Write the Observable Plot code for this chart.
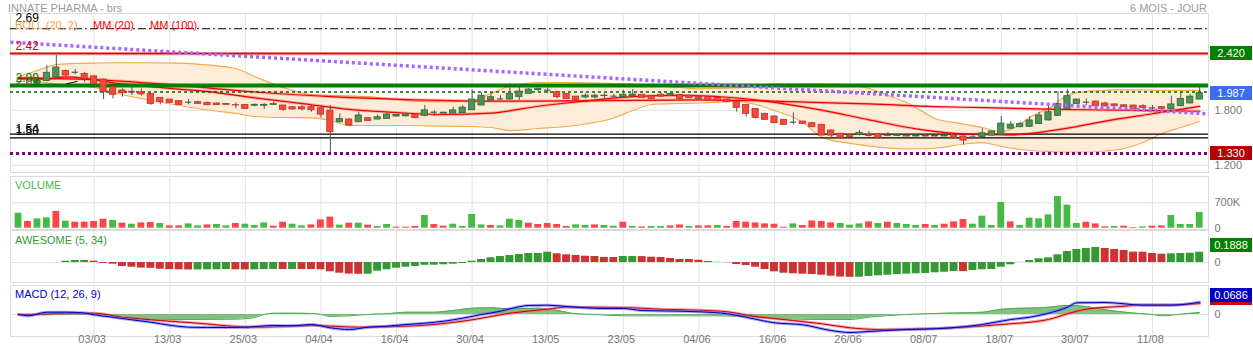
<!DOCTYPE html>
<html><head><meta charset="utf-8">
<script src="https://cdn.jsdelivr.net/npm/d3@7"></script>
<script src="https://cdn.jsdelivr.net/npm/@observablehq/plot@0.6"></script>
<style>
body{margin:0;background:#fff;font-family:"Liberation Sans",Arial,sans-serif;}
#c{position:relative;width:1253px;height:351px;overflow:hidden;background:#fff;}
.t{position:absolute;white-space:nowrap;font-size:11px;line-height:13px;}
.box{position:absolute;left:1210px;width:42px;height:14px;line-height:14px;color:#fff;font-size:11px;text-align:center;}
svg{display:block}
</style></head><body><div id="c"></div>
<script>
// ---------- data ----------
const tickIdx = [8,16,24,32,40,48,56,64,72,80,88,96,104,112,120];
const tickLabels = ["03/03","13/03","25/03","04/04","16/04","30/04","13/05","23/05","04/06","16/06","26/06","08/07","18/07","30/07","11/08"];

const opens = [2.06,2.08,2.09,2.12,2.158,2.23,2.215,2.196,2.17,2.136,
2.053,2.017,2.003,1.998,1.98,1.936,1.918,1.90,1.889,1.889,
1.882,1.875,1.87,1.857,1.86,1.85,1.85,1.86,1.853,1.834,
1.834,1.834,1.823,1.798,1.67,1.70,1.671,1.714,1.70,1.707,
1.733,1.735,1.755,1.74,1.78,1.765,1.765,1.77,1.80,1.853,
1.907,1.925,1.918,1.944,1.98,2.02,2.02,1.998,1.98,1.95,
1.94,1.94,1.955,1.955,1.944,1.955,1.97,1.955,1.97,1.96,
1.97,1.962,1.944,1.944,1.936,1.918,1.889,1.86,1.816,1.762,
1.733,1.697,1.671,1.678,1.66,1.642,1.58,1.545,1.53,1.53,
1.535,1.54,1.525,1.52,1.525,1.515,1.525,1.522,1.515,1.53,
1.515,1.51,1.51,1.525,1.535,1.60,1.616,1.62,1.65,1.69,
1.74,1.81,1.87,1.889,1.896,1.875,1.865,1.855,1.853,1.845,
1.827,1.835,1.81,1.845,1.875,1.918];
const highs = [2.09,2.10,2.14,2.29,2.398,2.24,2.245,2.214,2.18,2.14,
2.06,2.035,2.053,2.035,1.98,1.94,1.92,1.905,1.918,1.90,
1.89,1.88,1.875,1.882,1.862,1.87,1.875,1.889,1.855,1.84,
1.853,1.85,1.853,1.853,1.76,1.71,1.78,1.72,1.75,1.77,
1.755,1.77,1.76,1.853,1.80,1.78,1.834,1.853,2.027,1.99,
1.985,1.96,2.09,2.053,2.04,2.043,2.043,2.0,1.982,1.952,
1.98,1.98,1.98,1.975,2.02,2.027,1.975,1.96,1.99,1.99,
1.975,1.965,1.95,1.95,1.94,1.92,1.895,1.865,1.82,1.77,
1.74,1.70,1.773,1.68,1.665,1.645,1.585,1.55,1.535,1.58,
1.57,1.545,1.56,1.54,1.53,1.535,1.53,1.53,1.53,1.535,
1.52,1.53,1.60,1.575,1.733,1.678,1.67,1.73,1.78,1.853,
2.005,2.027,1.92,1.925,1.90,1.89,1.87,1.86,1.855,1.86,
1.853,1.84,1.955,1.998,1.97,2.053];
const lows = [2.05,2.06,2.08,2.11,2.15,2.17,2.19,2.10,2.08,1.918,
1.925,1.944,1.962,1.955,1.853,1.86,1.875,1.855,1.86,1.865,
1.85,1.852,1.855,1.816,1.81,1.84,1.81,1.853,1.79,1.80,
1.795,1.78,1.715,1.337,1.665,1.625,1.665,1.68,1.695,1.705,
1.725,1.725,1.71,1.73,1.735,1.76,1.76,1.765,1.80,1.85,
1.905,1.91,1.91,1.91,1.978,2.0,1.98,1.925,1.92,1.91,
1.925,1.925,1.925,1.94,1.94,1.94,1.93,1.92,1.945,1.95,
1.915,1.93,1.92,1.90,1.89,1.885,1.78,1.725,1.705,1.69,
1.655,1.638,1.642,1.65,1.612,1.52,1.489,1.495,1.505,1.52,
1.51,1.495,1.51,1.515,1.51,1.51,1.51,1.51,1.51,1.495,
1.42,1.48,1.505,1.52,1.53,1.595,1.61,1.615,1.645,1.685,
1.735,1.805,1.865,1.853,1.84,1.835,1.84,1.83,1.81,1.816,
1.80,1.81,1.805,1.84,1.87,1.915];
const closes = [2.08,2.07,2.12,2.21,2.267,2.18,2.215,2.144,2.09,1.998,
1.97,1.988,2.0,1.973,1.87,1.889,1.882,1.86,1.889,1.871,
1.857,1.857,1.86,1.853,1.816,1.86,1.86,1.868,1.806,1.81,
1.81,1.80,1.753,1.562,1.707,1.634,1.744,1.685,1.725,1.755,
1.75,1.755,1.715,1.80,1.78,1.775,1.80,1.83,1.918,1.96,
1.943,1.925,1.98,2.005,2.027,2.035,2.02,1.944,1.925,1.915,
1.96,1.96,1.96,1.955,1.97,1.973,1.936,1.925,1.95,1.98,
1.925,1.936,1.925,1.907,1.90,1.889,1.826,1.762,1.716,1.697,
1.66,1.642,1.671,1.653,1.616,1.525,1.525,1.50,1.51,1.555,
1.52,1.50,1.52,1.53,1.515,1.525,1.515,1.515,1.525,1.50,
1.47,1.51,1.55,1.57,1.656,1.645,1.653,1.69,1.744,1.78,
1.87,1.955,1.918,1.889,1.845,1.845,1.845,1.835,1.816,1.827,
1.827,1.816,1.865,1.925,1.95,1.987];

const bbIdx = [0,2,4,6,8,10,13,17,20,23,25,28,31,33,35,38,41,45,48,50,52,55,58,60,63,65,67,70,72,76,78,80,83,85,88,90,92,94,97,100,102,104,106,107,109,111,113,115,117,119,121,123,125];
const bbUp = [2.169,2.235,2.300,2.311,2.316,2.319,2.319,2.316,2.295,2.256,2.169,2.049,1.973,1.962,1.957,1.940,1.907,1.891,1.907,1.984,2.066,2.104,2.104,2.100,2.093,2.087,2.071,2.049,2.035,2.044,2.071,2.090,2.090,2.090,2.077,2.038,1.962,1.886,1.711,1.651,1.613,1.569,1.646,1.722,1.820,1.962,2.006,2.017,2.027,2.022,2.017,2.017,2.017];
const bbLo = [2.147,2.115,2.087,2.071,2.049,1.995,1.929,1.853,1.804,1.766,1.733,1.722,1.717,1.689,1.635,1.635,1.635,1.627,1.624,1.613,1.580,1.602,1.624,1.651,1.717,1.798,1.864,1.875,1.880,1.897,1.864,1.798,1.668,1.507,1.439,1.411,1.389,1.381,1.387,1.433,1.449,1.406,1.373,1.362,1.351,1.346,1.346,1.357,1.384,1.449,1.548,1.613,1.678];

const mm20Idx = [0,3,5,7,10,13,16,20,25,30,35,40,45,50,55,60,65,70,75,80,85,90,95,100,105,110,115,120,125];
const mm20 = [2.147,2.14,2.165,2.15,2.10,2.07,2.04,2.005,1.937,1.874,1.811,1.776,1.755,1.77,1.845,1.901,1.95,1.963,1.943,1.888,1.802,1.697,1.598,1.542,1.533,1.589,1.682,1.763,1.844];
const mm100Idx = [0,9,16,25,33,42,51,61,72,78,85,90,97,102,110,118,125];
const mm100 = [2.155,2.13,2.08,2.0,1.95,1.915,1.9,1.905,1.915,1.905,1.885,1.87,1.84,1.83,1.81,1.80,1.79];

const trendIdx = [-0.85,125.93];
const trendVal = [2.543,1.762];
const segIdx = [5.1,6.2];
const segVal = [2.09,2.115];

const levelDashDot = 2.69;
const levelRed = 2.42;
const levelGreen = 2.07;
const levelGreenDot = 2.0;
const levelBlack = [1.54,1.50];
const levelPurple = 1.33;
const lastPrice = 1.987;
const leftLabelVals = [2.69,2.42,2.09,2.01,1.54,1.50];
const leftLabelText = ["2.69","2.42","2.09","2.01","1.54","1.50"];
const priceGrid = [1.2,1.8,2.4];
const priceTickLabels = [1.2,1.8];

const vols = [414,185,257,284,461,193,166,166,185,248,
213,138,110,146,157,130,63,63,119,63,
91,102,63,130,110,75,146,55,166,110,
63,91,229,304,83,138,138,83,47,102,
28,28,47,350,102,55,110,47,378,91,
75,63,248,213,138,102,130,102,47,91,
75,91,75,55,166,47,36,47,47,63,
91,47,63,63,75,47,185,166,146,119,
110,28,119,75,201,185,146,130,83,119,
174,130,166,130,102,75,102,75,110,174,
240,110,331,75,709,174,75,276,257,367,
875,635,130,166,119,36,47,55,19,36,
55,63,350,102,102,433];
const volUp = [1,0,1,1,0,1,0,0,0,0,
1,0,1,0,0,1,0,0,1,1,
0,1,1,0,1,1,1,0,0,1,
1,0,0,0,1,0,1,0,1,1,
0,0,0,1,0,0,1,1,1,1,
0,1,1,1,0,0,0,0,0,1,
1,0,1,1,0,1,0,1,1,0,
0,1,0,0,1,0,0,0,0,0,
0,0,1,0,0,0,0,1,1,1,
0,1,0,1,1,1,0,1,0,0,
0,1,1,1,1,0,1,1,1,1,
1,1,1,0,0,0,1,0,0,1,
0,0,1,1,1,1];
const volTicks = [0,700];

const ao = [null,null,null,null,null,0.0238,0.0367,0.0385,0.0238,-0.0183,
-0.0312,-0.0733,-0.0862,-0.1026,-0.1063,-0.1228,-0.132,-0.1347,-0.1366,-0.1356,
-0.1347,-0.1338,-0.1301,-0.1338,-0.1356,-0.1347,-0.1301,-0.1265,-0.1283,-0.1274,
-0.1292,-0.1301,-0.1338,-0.1705,-0.1961,-0.2126,-0.2163,-0.2145,-0.1595,-0.1338,
-0.1045,-0.0862,-0.0733,-0.0513,-0.0495,-0.0422,-0.0312,-0.0183,0.0238,0.055,
0.0862,0.11,0.1283,0.1466,0.165,0.1668,0.1888,0.1595,0.1411,0.1283,
0.1155,0.11,0.0935,0.0917,0.11,0.1109,0.1081,0.0971,0.0917,0.0733,
0.0568,0.055,0.0422,0.0183,0.0037,-0.0037,-0.0367,-0.055,-0.0862,-0.1283,
-0.1705,-0.1961,-0.2071,-0.2145,-0.22,-0.2328,-0.2511,-0.2676,-0.2713,-0.2695,
-0.2566,-0.2438,-0.2328,-0.22,-0.2145,-0.2071,-0.2016,-0.1888,-0.1778,-0.165,
-0.1668,-0.1466,-0.1338,-0.1283,-0.0862,-0.0422,0.0018,0.0367,0.0678,0.0862,
0.1411,0.2016,0.2383,0.2566,0.275,0.2566,0.2383,0.22,0.1906,0.1888,
0.165,0.1521,0.1595,0.165,0.1705,0.1888];
const aoLast = 0.1888;

const macdIdx = [0,1,3,5,7,8,10,12,14,16,18,20,22,24,27,29,31,33,35,37,39,41,43,45,47,49,51,52,54,56,58,60,62,64,66,70,72,75,77,80,83,86,88,90,94,97,100,102,105,107,109,111,112,115,117,119,122,125];
const macdVal = [0,-0.0073,0.0128,0.0128,0.0084,-0.0017,-0.0151,-0.0296,-0.0429,-0.0597,-0.0708,-0.0725,-0.0725,-0.0708,-0.0613,-0.063,-0.0558,-0.0742,-0.0837,-0.0708,-0.0653,-0.0558,-0.0485,-0.0374,-0.0206,0,0.0184,0.0318,0.0502,0.0519,0.0446,0.0374,0.0335,0.0335,0.0223,0.0184,0.0151,0.0039,-0.0151,-0.0463,-0.0574,-0.0892,-0.1004,-0.0948,-0.0837,-0.0798,-0.0686,-0.0558,-0.0279,-0.0151,0.0073,0.0407,0.0653,0.0669,0.0597,0.0519,0.0519,0.0686];
const sigIdx = [0,2,5,8,11,15,19,22,25,27,31,36,40,44,48,52,56,58,60,64,68,72,75,78,82,85,88,91,96,100,104,109,111,113,117,119,122,125];
const sigVal = [0,0,0.0073,0.0073,-0.0151,-0.0335,-0.0485,-0.063,-0.0708,-0.0686,-0.0613,-0.0708,-0.0669,-0.0558,-0.0296,0.0073,0.0296,0.0407,0.0407,0.039,0.0296,0.024,0.0151,-0.0112,-0.0335,-0.0519,-0.0742,-0.0837,-0.0798,-0.0708,-0.0558,-0.0279,0.0039,0.0296,0.0463,0.0541,0.0541,0.0613];
const histIdx = [0,8,11,12,16,19,23,25,26,27,29,31,32,33,35,37,39,41,44,46,48,50,52,55,57,59,61,64,74,78,81,85,88,90,94,98,102,104,109,111,113,115,119,120,121,123,125];
const histVal = [0,0,-0.0084,-0.0167,-0.0279,-0.0279,-0.0262,-0.0167,0,0.0073,0.0073,0.0056,0,-0.0112,-0.0073,0,0.0039,0.0128,0.0128,0.0223,0.0351,0.0374,0.0318,0.0351,0.0223,0.0039,0,-0.0073,-0.0073,-0.0151,-0.024,-0.0279,-0.0279,-0.0151,0,0.0073,0.0128,0.0296,0.0407,0.0502,0.0446,0.0262,0.0039,0,-0.0073,0.0017,0.0112];
const macdLast = 0.0686;
const sigLast = 0.0613;

// ---------- build ----------
const root = document.getElementById("c");
const FONT = "Liberation Sans, Arial, sans-serif";
const xDom = [-0.85, 125.93];
const common = {width:1253, marginLeft:10, marginRight:45, x:{domain:xDom, axis:null},
  style:{background:"transparent", overflow:"visible", fontFamily:FONT, fontSize:"11px"}};

const candles = closes.map((c,i)=>({i, o:opens[i], h:highs[i], l:lows[i], c}));
const bb = bbIdx.map((i,k)=>({i, up:bbUp[k], lo:bbLo[k]}));
const m20 = mm20Idx.map((i,k)=>({i, v:mm20[k]}));
const m100 = mm100Idx.map((i,k)=>({i, v:mm100[k]}));
const trend = trendIdx.map((i,k)=>({i, v:trendVal[k]}));
const seg = segIdx.map((i,k)=>({i, v:segVal[k]}));
// label styles (colour, vertical offset in px)
const leftColors = ["#000","#e00000","#008000","#008000","#000","#000"];
const leftDy = [-11,-7,-6,-9,-5,-6.5];
const leftLabelMarks = leftLabelVals.map((v,k)=>Plot.text([v], {x:()=>xDom[0], y:d=>d, text:()=>leftLabelText[k],
  textAnchor:"start", dx:5, dy:leftDy[k], fill:leftColors[k], fontSize:12}));

const GREEN_C = "#4f9157", GREEN_S = "#2d6b34", RED_C = "#f5493a", RED_S = "#c0302a";
const up = d => d.c >= d.o;

function addSvg(plot, top){
  plot.style.position = "absolute"; plot.style.left = "0px"; plot.style.top = top + "px";
  root.appendChild(plot);
}
function addText(txt, left, cy, color, size){
  const d = document.createElement("div"); d.className = "t";
  d.textContent = txt; d.style.left = left + "px"; d.style.top = (cy - 6.5) + "px";
  d.style.color = color; if (size) d.style.fontSize = size + "px";
  root.appendChild(d); return d;
}
function addBox(txt, cy, bg){
  const d = document.createElement("div"); d.className = "box";
  d.textContent = txt; d.style.top = (cy - 7) + "px"; d.style.background = bg;
  root.appendChild(d); return d;
}

// main price panel
const mainTop = 13, mainH = 159;
const main = Plot.plot({
  ...common, height:mainH, marginTop:0, marginBottom:0,
  y:{domain:[1.1223, 2.8562], axis:null},
  marks:[
    Plot.frame({stroke:"#dcdcdc"}),
    Plot.ruleX(tickIdx, {stroke:"#e2e2e2"}),
    Plot.ruleY(priceGrid, {stroke:"#e2e2e2"}),
    Plot.areaY(bb, {x:"i", y1:"lo", y2:"up", fill:"#fdecd8", curve:"monotone-x"}),
    Plot.line(bb, {x:"i", y:"up", stroke:"#f6aa4c", strokeWidth:1.2, curve:"monotone-x"}),
    Plot.line(bb, {x:"i", y:"lo", stroke:"#f6aa4c", strokeWidth:1.2, curve:"monotone-x"}),
    Plot.ruleY([levelDashDot], {stroke:"#000", strokeWidth:1, strokeDasharray:"8,3,2,3"}),
    Plot.ruleY([levelRed], {stroke:"#e00000", strokeWidth:2}),
    Plot.ruleY(levelBlack, {stroke:"#000", strokeWidth:1.3}),
    Plot.ruleY([levelPurple], {stroke:"#800080", strokeWidth:3, strokeDasharray:"3,3"}),
    Plot.line(m100, {x:"i", y:"v", stroke:"#ff0000", strokeOpacity:0.25, strokeWidth:3, curve:"monotone-x"}),
    Plot.line(m100, {x:"i", y:"v", stroke:"#f00000", strokeWidth:1.2, curve:"monotone-x"}),
    Plot.line(m20, {x:"i", y:"v", stroke:"#ff0000", strokeOpacity:0.25, strokeWidth:3, curve:"monotone-x"}),
    Plot.line(m20, {x:"i", y:"v", stroke:"#f00000", strokeWidth:1.2, curve:"monotone-x"}),
    Plot.ruleY([levelGreen], {stroke:"#008000", strokeWidth:4}),
    Plot.ruleY([levelGreenDot], {stroke:"#006400", strokeWidth:1.3, strokeDasharray:"3,3"}),
    Plot.ruleX(candles, {x:"i", y1:"l", y2:"h", stroke:"#555", strokeWidth:1}),
    Plot.rect(candles, {x1:d=>d.i-0.33, x2:d=>d.i+0.33, y1:"o", y2:"c",
      fill:d=>up(d)?GREEN_C:RED_C, stroke:d=>up(d)?GREEN_S:RED_S, strokeWidth:0.8}),
    Plot.ruleY(candles.filter(d=>Math.abs(d.c-d.o)<0.004), {x1:d=>d.i-0.33, x2:d=>d.i+0.33, y:"c", stroke:"#555", strokeWidth:1.2}),
    Plot.line(trend, {x:"i", y:"v", stroke:"#a565ff", strokeWidth:3.5, strokeDasharray:"3,3", strokeLinecap:"butt"}),
    Plot.line(seg, {x:"i", y:"v", stroke:"#111", strokeWidth:1}),
    ...leftLabelMarks,
    Plot.text(priceTickLabels, {y:d=>d, text:d=>d3.format(".3f")(d), frameAnchor:"right", textAnchor:"start", dx:6, fill:"#777", fontSize:11})
  ]
});
addSvg(main, mainTop);
const sy = main.scale("y");
addBox("2.420", mainTop + sy.apply(levelRed), "#008000");
addBox("1.987", mainTop + sy.apply(lastPrice), "#3a6cf2");
addBox("1.330", mainTop + sy.apply(levelPurple), "#b40000");

// volume panel
const vTop = 176, vH = 53;
const volData = vols.map((v,i)=>({i, v, u:volUp[i]}));
const vol = Plot.plot({
  ...common, height:vH, marginTop:0, marginBottom:0,
  y:{domain:[-35.8, 1424.8], axis:null},
  marks:[
    Plot.frame({stroke:"#dcdcdc"}),
    Plot.ruleX(tickIdx, {stroke:"#e2e2e2"}),
    Plot.ruleY([700], {stroke:"#e2e2e2"}),
    Plot.rect(volData, {x1:d=>d.i-0.36, x2:d=>d.i+0.36, y1:0, y2:"v", fill:d=>d.u?"#44bb44":"#ff4545"}),
    Plot.text(volTicks, {y:d=>d, text:d=>d===0?"0":d+"K", frameAnchor:"right", textAnchor:"start", dx:6, fill:"#777", fontSize:11})
  ]
});
addSvg(vol, vTop);

// awesome oscillator panel
const aTop = 230, aH = 52;
const aoData = ao.map((v,i)=>({i, v, g: i>0 && ao[i-1]!=null ? v>ao[i-1] : true})).filter(d=>d.v!=null);
const aw = Plot.plot({
  ...common, height:aH, marginTop:0, marginBottom:0,
  y:{domain:[-0.3666, 0.5866], axis:null},
  marks:[
    Plot.frame({stroke:"#dcdcdc"}),
    Plot.ruleX(tickIdx, {stroke:"#e2e2e2"}),
    Plot.ruleY([0], {stroke:"#e2e2e2"}),
    Plot.rect(aoData, {x1:d=>d.i-0.42, x2:d=>d.i+0.42, y1:0, y2:"v", fill:d=>d.g?"#339933":"#cc3333"}),
    Plot.text([0], {y:d=>d, text:d=>"0", frameAnchor:"right", textAnchor:"start", dx:6, fill:"#777", fontSize:11})
  ]
});
addSvg(aw, aTop);
addBox("0.1888", aTop + aw.scale("y").apply(aoLast) - 6.7, "#008000");

// MACD panel
const mTop = 285, mH = 51;
const macd = macdIdx.map((i,k)=>({i, v:macdVal[k]}));
const sig = sigIdx.map((i,k)=>({i, v:sigVal[k]}));
const hist = histIdx.map((i,k)=>({i, v:histVal[k]}));
const mc = Plot.plot({
  ...common, height:mH+15, marginTop:0, marginBottom:15,
  y:{domain:[-0.1227, 0.1617], axis:null},
  marks:[
    Plot.frame({stroke:"#dcdcdc"}),
    Plot.ruleX(tickIdx, {stroke:"#e2e2e2"}),
    Plot.ruleY([0], {stroke:"#e2e2e2"}),
    Plot.areaY(hist, {x:"i", y:"v", fill:"#3f9f3f", fillOpacity:0.65, curve:"monotone-x"}),
    Plot.line(hist, {x:"i", y:"v", stroke:"#4caf50", strokeWidth:1, curve:"monotone-x"}),
    Plot.line(sig, {x:"i", y:"v", stroke:"#ff6666", strokeOpacity:0.6, strokeWidth:3, curve:"monotone-x"}),
    Plot.line(sig, {x:"i", y:"v", stroke:"#c00000", strokeWidth:1, curve:"monotone-x"}),
    Plot.line(macd, {x:"i", y:"v", stroke:"#6666ff", strokeOpacity:0.6, strokeWidth:3, curve:"monotone-x"}),
    Plot.line(macd, {x:"i", y:"v", stroke:"#0000b0", strokeWidth:1, curve:"monotone-x"}),
    Plot.text([0], {y:d=>d, text:d=>"0", frameAnchor:"right", textAnchor:"start", dx:6, fill:"#777", fontSize:11}),
    Plot.text(tickIdx, {x:d=>d, text:(d,i)=>tickLabels[i], frameAnchor:"bottom", dy:6, dx:-2, fill:"#777", fontSize:11})
  ]
});
addSvg(mc, mTop);
const my = mc.scale("y");
addBox("", mTop + my.apply(sigLast) - 6.7 + 1.5, "#cc0000");
addBox("0.0686", mTop + my.apply(macdLast) - 6.7, "#0000c0");

// titles and legends
addText("INNATE PHARMA - brs", 8, 8, "#9a9a9a", 11);
const r = addText("6 MOIS - JOUR", 0, 8, "#9a9a9a", 11); r.style.left = ""; r.style.right = (1253-1207) + "px";
addText("BOLL (20, 2)", 15, 25, "#f4a445", 11);
addText("MM (20)", 93, 25, "#ff0000", 11);
addText("MM (100)", 150, 25, "#ff0000", 11);
addText("VOLUME", 15, 185, "#44bb44", 11);
addText("AWESOME (5, 34)", 15, 240, "#339933", 11);
addText("MACD (12, 26, 9)", 15, 294, "#0000cc", 11);
</script></body></html>
